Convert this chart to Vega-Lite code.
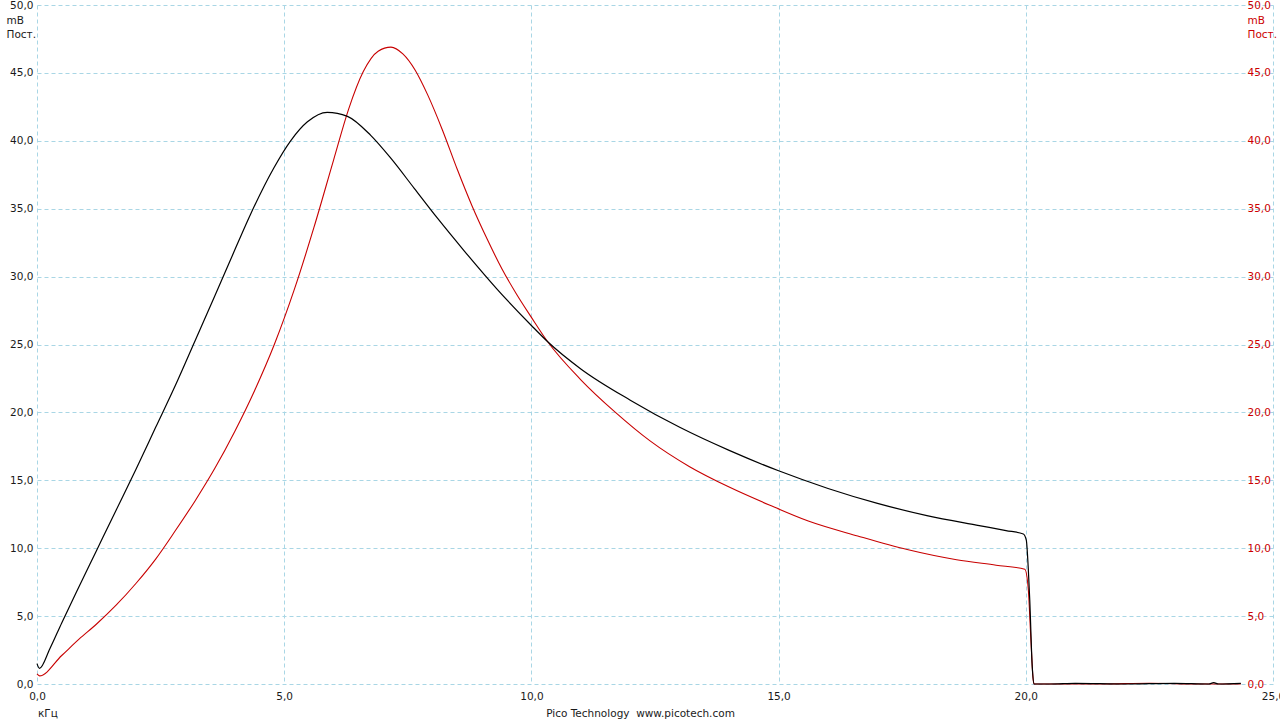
{
  "$schema": "https://vega.github.io/schema/vega-lite/v6.json",
  "width": 1236,
  "height": 679,
  "autosize": {"type": "none"},
  "padding": {"left": 37, "top": 5, "right": 7, "bottom": 36},
  "background": "white",
  "config": {
    "view": {"stroke": null},
    "font": "DejaVu Sans",
    "axis": {"labelFont": "DejaVu Sans", "titleFont": "DejaVu Sans", "labelFontSize": 10.5, "titleFontSize": 10.5, "titleFontWeight": "normal"}
  },
  "title": {
    "text": "кГц",
    "orient": "bottom",
    "anchor": "start",
    "frame": "group",
    "fontSize": 10.5,
    "fontWeight": "normal",
    "font": "DejaVu Sans",
    "color": "#1a1a1a",
    "offset": 0,
    "dx": 1,
    "dy": -10,
    "baseline": "top"
  },
  "datasets": {
    "black": [
      {"f": 0, "v": 1.5}, {"f": 0.05, "v": 1.15}, {"f": 0.26, "v": 2.6}, {"f": 0.5, "v": 4.5},
      {"f": 0.8, "v": 6.8}, {"f": 1.2, "v": 9.8}, {"f": 1.6, "v": 12.8}, {"f": 2.0, "v": 15.8},
      {"f": 2.4, "v": 18.9}, {"f": 2.8, "v": 22.0}, {"f": 3.2, "v": 25.3}, {"f": 3.6, "v": 28.6},
      {"f": 3.91, "v": 31.2}, {"f": 4.32, "v": 34.6}, {"f": 4.79, "v": 38.0}, {"f": 5.13, "v": 40.0},
      {"f": 5.47, "v": 41.4}, {"f": 5.87, "v": 42.1}, {"f": 6.28, "v": 41.8}, {"f": 6.75, "v": 40.4},
      {"f": 7.16, "v": 38.7}, {"f": 7.63, "v": 36.5}, {"f": 8.1, "v": 34.3}, {"f": 8.64, "v": 31.9},
      {"f": 9.3, "v": 29.1}, {"f": 10.0, "v": 26.4}, {"f": 10.33, "v": 25.2}, {"f": 11.0, "v": 23.2},
      {"f": 12.0, "v": 20.9}, {"f": 13.0, "v": 18.9}, {"f": 14.0, "v": 17.2}, {"f": 15.0, "v": 15.7},
      {"f": 16.0, "v": 14.4}, {"f": 17.0, "v": 13.3}, {"f": 18.0, "v": 12.4}, {"f": 19.0, "v": 11.7},
      {"f": 19.6, "v": 11.3}, {"f": 19.95, "v": 11.05}, {"f": 20.01, "v": 10.6}, {"f": 20.05, "v": 8.5},
      {"f": 20.08, "v": 6.2}, {"f": 20.13, "v": 1.3}, {"f": 20.17, "v": 0.0}, {"f": 20.5, "v": 0.0},
      {"f": 21.0, "v": 0.05}, {"f": 22.0, "v": 0.0}, {"f": 23.0, "v": 0.05}, {"f": 23.7, "v": 0.0},
      {"f": 23.8, "v": 0.1}, {"f": 23.9, "v": 0.0}, {"f": 24.35, "v": 0.05}
    ],
    "red": [
      {"f": 0, "v": 0.74}, {"f": 0.05, "v": 0.6}, {"f": 0.5, "v": 2.1}, {"f": 0.85, "v": 3.3},
      {"f": 1.2, "v": 4.4}, {"f": 1.6, "v": 5.8}, {"f": 2.0, "v": 7.4}, {"f": 2.4, "v": 9.2},
      {"f": 2.8, "v": 11.3}, {"f": 3.2, "v": 13.5}, {"f": 3.6, "v": 15.9}, {"f": 4.0, "v": 18.6},
      {"f": 4.4, "v": 21.6}, {"f": 4.8, "v": 25.0}, {"f": 5.2, "v": 29.0}, {"f": 5.6, "v": 33.6},
      {"f": 6.0, "v": 38.6}, {"f": 6.3, "v": 42.3}, {"f": 6.6, "v": 45.1}, {"f": 6.9, "v": 46.6},
      {"f": 7.16, "v": 46.9}, {"f": 7.4, "v": 46.4}, {"f": 7.65, "v": 45.2}, {"f": 7.9, "v": 43.4},
      {"f": 8.2, "v": 40.8}, {"f": 8.5, "v": 37.9}, {"f": 8.8, "v": 35.2}, {"f": 9.1, "v": 32.8},
      {"f": 9.4, "v": 30.6}, {"f": 9.7, "v": 28.7}, {"f": 10.0, "v": 27.0}, {"f": 10.33, "v": 25.2},
      {"f": 11.0, "v": 22.4}, {"f": 11.7, "v": 20.0}, {"f": 12.4, "v": 17.9}, {"f": 13.2, "v": 16.0},
      {"f": 14.0, "v": 14.5}, {"f": 14.8, "v": 13.2}, {"f": 15.6, "v": 12.0}, {"f": 16.6, "v": 10.9},
      {"f": 17.6, "v": 9.9}, {"f": 18.6, "v": 9.15}, {"f": 19.4, "v": 8.75}, {"f": 19.98, "v": 8.45},
      {"f": 20.05, "v": 7.0}, {"f": 20.1, "v": 3.5}, {"f": 20.15, "v": 0.3}, {"f": 20.17, "v": 0.0},
      {"f": 21.5, "v": 0.0}, {"f": 22.5, "v": 0.05}, {"f": 23.5, "v": 0.0}, {"f": 24.35, "v": 0.0}
    ]
  },
  "layer": [
    {
      "data": {"name": "red"},
      "mark": {"type": "line", "color": "#c80000", "strokeWidth": 1.1, "interpolate": "monotone"},
      "encoding": {
        "x": {
          "field": "f", "type": "quantitative",
          "scale": {"domain": [0, 25], "nice": false, "zero": false},
          "axis": {
            "orient": "bottom",
            "values": [0, 5, 10, 15, 20, 25],
            "labelExpr": "replace(format(datum.value, '.1f'), '.', ',')",
            "labelFlush": false,
            "labelOverlap": false,
            "ticks": false,
            "domain": false,
            "labelPadding": 7,
            "labelColor": "#1a1a1a",
            "grid": true,
            "gridColor": "#a9d6e5",
            "gridDash": [4, 3],
            "gridWidth": 1,
            "title": "Pico Technology\u00a0 www.picotech.com",
            "titleColor": "#1a1a1a",
            "titleAnchor": "start",
            "titleAlign": "center",
            "titleX": 603,
            "titleY": 24,
            "titleBaseline": "top"
          }
        },
        "y": {
          "field": "v", "type": "quantitative",
          "scale": {"domain": [0, 50], "nice": false},
          "axis": {
            "orient": "right",
            "values": [0, 5, 10, 15, 20, 25, 30, 35, 40, 45, 50],
            "labelExpr": "replace(format(datum.value, '.1f'), '.', ',')",
            "labelAlign": "left",
            "labelBaseline": "middle",
            "labelPadding": -26,
            "labelFlush": false,
            "labelOverlap": false,
            "labelColor": "#cc0000",
            "ticks": false,
            "domain": false,
            "grid": false,
            "title": ["mВ", "Пост."],
            "titleColor": "#cc0000",
            "titleAngle": 0,
            "titleAlign": "left",
            "titleBaseline": "top",
            "titleAnchor": "start",
            "titleX": -26,
            "titleY": 10,
            "titleLineHeight": 14
          }
        }
      }
    },
    {
      "data": {"name": "black"},
      "mark": {"type": "line", "color": "#000000", "strokeWidth": 1.2, "interpolate": "monotone"},
      "encoding": {
        "x": {"field": "f", "type": "quantitative", "scale": {"domain": [0, 25], "nice": false, "zero": false}},
        "y": {
          "field": "v", "type": "quantitative",
          "scale": {"domain": [0, 50], "nice": false},
          "axis": {
            "orient": "left",
            "values": [0, 5, 10, 15, 20, 25, 30, 35, 40, 45, 50],
            "labelExpr": "replace(format(datum.value, '.1f'), '.', ',')",
            "labelAlign": "right",
            "labelBaseline": "middle",
            "labelPadding": 4,
            "labelFlush": false,
            "labelOverlap": false,
            "labelColor": "#1a1a1a",
            "ticks": false,
            "domain": false,
            "grid": true,
            "gridColor": "#a9d6e5",
            "gridDash": [4, 3],
            "gridWidth": 1,
            "title": ["mВ", "Пост."],
            "titleColor": "#1a1a1a",
            "titleAngle": 0,
            "titleAlign": "left",
            "titleBaseline": "top",
            "titleAnchor": "start",
            "titleX": -31,
            "titleY": 10,
            "titleLineHeight": 14
          }
        }
      }
    }
  ],
  "resolve": {"scale": {"y": "independent"}, "axis": {"y": "independent"}}
}
